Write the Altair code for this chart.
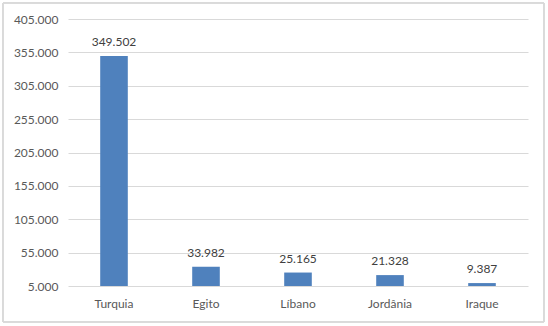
import altair as alt
import pandas as pd

categories = ["Turquia", "Egito", "Líbano", "Jordânia", "Iraque"]
values = [349502, 33982, 25165, 21328, 9387]
y_ticks = [5000, 55000, 105000, 155000, 205000, 255000, 305000, 355000, 405000]

df = pd.DataFrame({"pais": categories, "valor": values})

FONT = "Lato"
GRAY = "#595959"

y_axis = alt.Axis(values=y_ticks, format=",d", domain=False, ticks=False,
                  labelOverlap=False, labelPadding=10, labelFontSize=12,
                  labelColor=GRAY, labelFont=FONT, gridColor="#d9d9d9",
                  gridWidth=1, tickCount=9)
y_scale = alt.Scale(domain=[5000, 405000], zero=False, nice=False)

base = alt.Chart(df).encode(
    x=alt.X("pais:N", sort=categories, title=None,
            scale=alt.Scale(paddingInner=0.7, paddingOuter=0.35),
            axis=alt.Axis(labelAngle=0, domain=False, ticks=False, labelPadding=12,
                          labelFontSize=12, labelColor=GRAY, labelFont=FONT))
)

bars = base.mark_bar(color="#4f81bd").encode(
    y=alt.Y("valor:Q", title=None, scale=y_scale, axis=y_axis),
    y2=alt.datum(5000),
)

labels = base.mark_text(baseline="bottom", dy=-7, fontSize=12, color="#404040", font=FONT).encode(
    y=alt.Y("valor:Q", title=None, scale=y_scale, axis=y_axis),
    text=alt.Text("valor:Q", format=",d"),
)

frame = alt.Chart(df).mark_rect(fill=None, stroke="#d9d9d9", strokeWidth=1).encode(
    x=alt.value(-65), x2=alt.value(476), y=alt.value(-16), y2=alt.value(303)
)

chart = alt.layer(frame, bars, labels).properties(
    width=460, height=267,
    padding={"left": 68, "top": 19, "right": 20, "bottom": 40},
    autosize=alt.AutoSizeParams(type="none"),
    background="white",
).configure_view(stroke=None)

chart.save("out.html", embed_options={
    "renderer": "svg", "actions": False,
    "formatLocale": {"decimal": ",", "thousands": ".", "grouping": [3], "currency": ["", ""]},
})
